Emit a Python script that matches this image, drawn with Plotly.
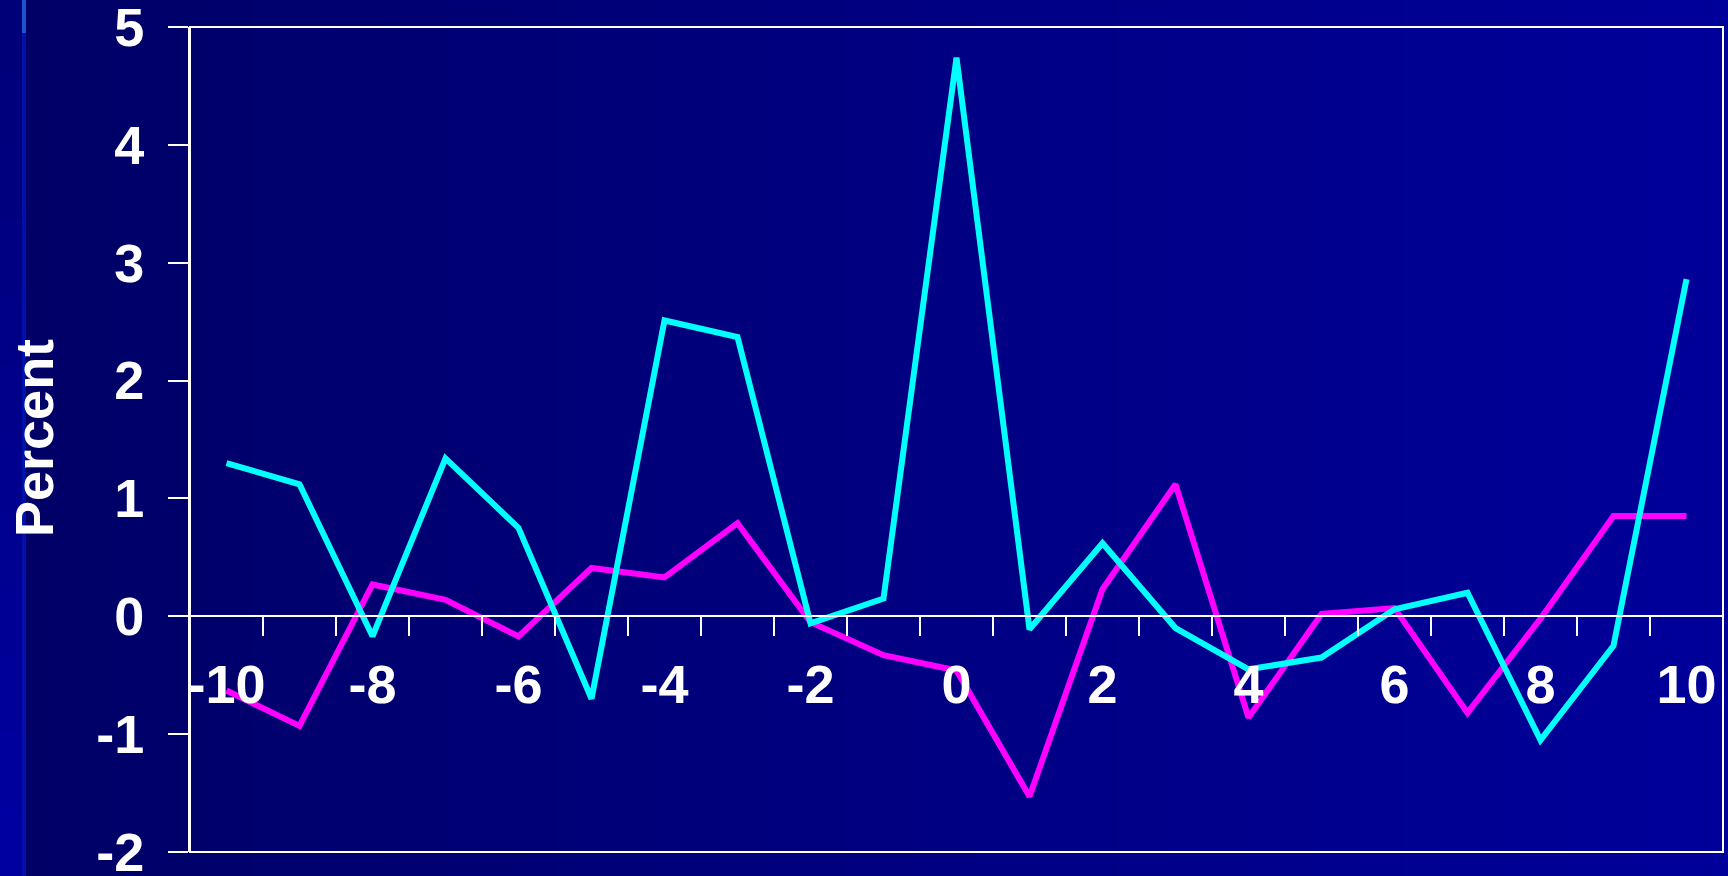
import plotly.graph_objects as go

# Event window (days relative to the event)
days = list(range(-10, 11))

# Daily percentage change, two series
series_magenta = [-0.63, -0.93, 0.27, 0.14, -0.17, 0.41, 0.33, 0.79, -0.05, -0.33, -0.46,
                  -1.53, 0.23, 1.12, -0.86, 0.02, 0.07, -0.82, -0.02, 0.85, 0.85]
series_cyan = [1.30, 1.12, -0.17, 1.34, 0.75, -0.70, 2.51, 2.37, -0.06, 0.15, 4.74,
               -0.11, 0.62, -0.10, -0.45, -0.35, 0.06, 0.20, -1.05, -0.25, 2.86]

# Axis ticks
x_labels = list(range(-10, 11, 2))
x_minor = [v + 0.5 for v in range(-10, 10)]
y_ticks = list(range(-2, 6))

W, H = 1728, 876
ML, MR, MT, MB = 190, 5, 27, 24
PW, PH = W - ML - MR, H - MT - MB


def px_to_paper_x(px):
    return (px - ML) / PW


def px_to_paper_y(py):
    return (H - MB - py) / PH


FONT = "Liberation Sans, Arial, sans-serif"

fig = go.Figure()
fig.add_trace(go.Scatter(x=days, y=series_magenta, mode="lines",
                         line=dict(color="#FF00FF", width=6), showlegend=False))
fig.add_trace(go.Scatter(x=days, y=series_cyan, mode="lines",
                         line=dict(color="#00FFFF", width=6), showlegend=False))

shapes = []
# Horizontal background gradient, dark navy to brighter blue
n = 96
step = W / n
for i in range(n):
    t = i / (n - 1)
    b = int(round(0x66 + t * (0x9A - 0x66)))
    shapes.append(dict(type="rect", xref="paper", yref="paper", layer="below",
                       x0=px_to_paper_x(i * step), x1=px_to_paper_x((i + 1) * step + 1),
                       y0=px_to_paper_y(H + 2), y1=px_to_paper_y(-2),
                       line=dict(width=0), fillcolor=f"rgb(0,0,{b})"))
# Left edge band
m = 12
for j in range(m):
    t = j / (m - 1)
    b = int(round(0x78 + t * (0xA0 - 0x78)))
    shapes.append(dict(type="rect", xref="paper", yref="paper", layer="below",
                       x0=px_to_paper_x(0), x1=px_to_paper_x(22),
                       y0=px_to_paper_y((j + 1) * H / m + 1), y1=px_to_paper_y(j * H / m),
                       line=dict(width=0), fillcolor=f"rgb(0,0,{b})"))
shapes.append(dict(type="rect", xref="paper", yref="paper", layer="below",
                   x0=px_to_paper_x(22), x1=px_to_paper_x(26),
                   y0=px_to_paper_y(H), y1=px_to_paper_y(33),
                   line=dict(width=0), fillcolor="#0010A8"))
shapes.append(dict(type="rect", xref="paper", yref="paper", layer="below",
                   x0=px_to_paper_x(22), x1=px_to_paper_x(26),
                   y0=px_to_paper_y(33), y1=px_to_paper_y(0),
                   line=dict(width=0), fillcolor="#1C56CE"))
# Plot frame
shapes.append(dict(type="rect", xref="paper", yref="paper", layer="above",
                   x0=0, x1=1, y0=0, y1=1, line=dict(color="white", width=2)))

fig.update_layout(
    width=W, height=H,
    margin=dict(l=ML, r=MR, t=MT, b=MB, autoexpand=False),
    paper_bgcolor="#000080",
    plot_bgcolor="rgba(0,0,0,0)",
    shapes=shapes,
    xaxis=dict(
        range=[-10.5, 10.5], automargin=False,
        anchor="free", position=2 / 7,
        tickmode="array", tickvals=x_labels, ticktext=[str(v) for v in x_labels],
        ticks="", ticklabelstandoff=21, ticklabeloverflow="allow",
        tickfont=dict(family=FONT, size=54, color="white", weight="bold"),
        minor=dict(tickmode="array", tickvals=x_minor, ticks="outside",
                   ticklen=19, tickwidth=2, tickcolor="white", showgrid=False),
        showline=True, linecolor="white", linewidth=2,
        showgrid=False, zeroline=False,
    ),
    yaxis=dict(
        range=[-2, 5], automargin=False,
        tickmode="array", tickvals=y_ticks, ticktext=[str(v) for v in y_ticks],
        ticks="outside", ticklen=20, tickwidth=2, tickcolor="white",
        ticklabelstandoff=13, ticklabeloverflow="allow",
        tickfont=dict(family=FONT, size=54, color="white", weight="bold"),
        showline=True, linecolor="white", linewidth=2,
        showgrid=False, zeroline=False,
    ),
    annotations=[dict(
        text="<b>Percent</b>", textangle=-90, showarrow=False,
        xref="paper", yref="paper",
        x=px_to_paper_x(34), y=px_to_paper_y(438),
        xanchor="center", yanchor="middle",
        font=dict(family=FONT, size=54, color="white"),
    )],
)

fig.write_html("out.html")
